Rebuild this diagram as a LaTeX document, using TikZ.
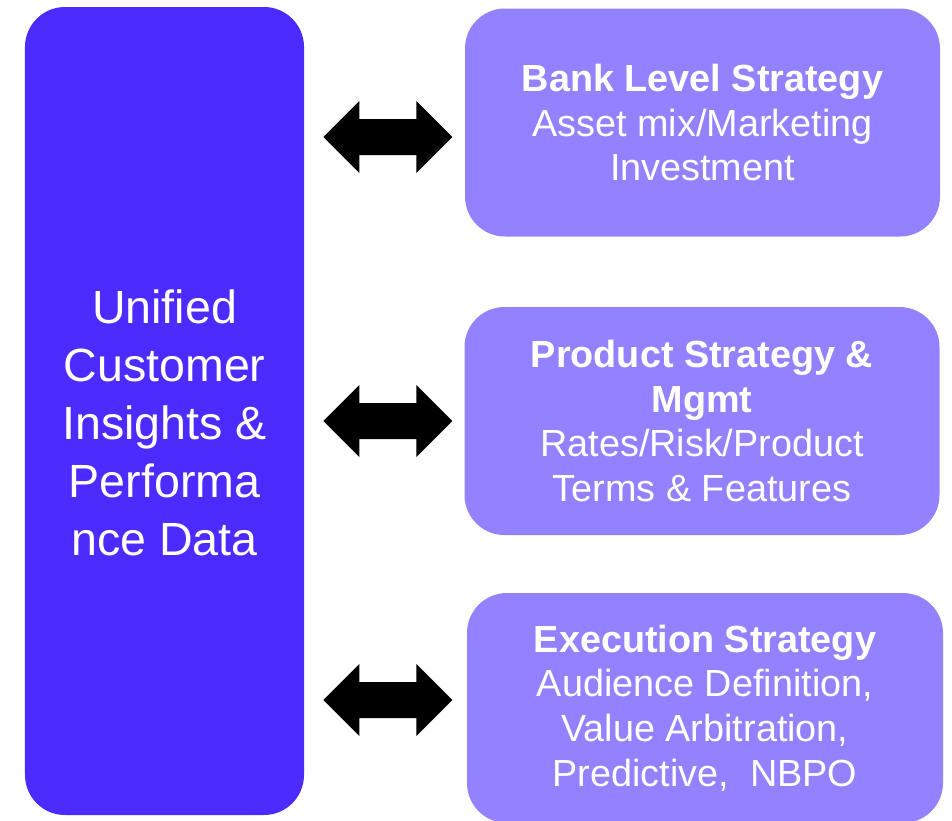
\documentclass[tikz,border=0pt]{standalone}
\usepackage{fontspec}
\setmainfont{Liberation Sans}
\definecolor{darkviolet}{HTML}{4B2BFF}
\definecolor{lightviolet}{HTML}{9382FF}
\tikzset{
    databox/.style={fill=darkviolet,rounded corners=0.8cm},
    datatext/.style={text=white,align=center,font=\fontsize{26.5}{33}\selectfont},
    stratbox/.style={fill=lightviolet,rounded corners=0.8cm,text=white,align=center,font=\fontsize{21.5}{25.5}\selectfont,minimum width=9.5cm,minimum height=4.56cm},
    dblarr/.pic={\fill (0,0) -- (0.72,0.72) -- (0.72,0.36) -- (1.86,0.36) -- (1.86,0.72) -- (2.58,0) -- (1.86,-0.72) -- (1.86,-0.36) -- (0.72,-0.36) -- (0.72,-0.72) -- cycle;}
}
\begin{document}
\begin{tikzpicture}
        \useasboundingbox (0,0) rectangle (19.04,-16.42);
        %% Data column
        \node[databox,minimum width=5.58cm,minimum height=16.16cm] (data) at (3.29,-8.22) {};
        \node[datatext] (datalabel) at ([yshift=-0.24cm]data.center) {Unified\\Customer\\Insights \&\\Performa\\nce Data};
        %% Strategy boxes
        \node[stratbox] (bank) at (14.05,-2.45) {\textbf{Bank Level Strategy}\\Asset mix/Marketing\\Investment};
        \node[stratbox] (prod) at (14.04,-8.42) {\textbf{Product Strategy \&}\\\textbf{Mgmt}\\Rates/Risk/Product\\Terms \& Features};
        \node[stratbox,minimum width=9.52cm,minimum height=4.6cm] (exec) at (14.1,-14.16) {\textbf{Execution Strategy}\\Audience Definition,\\Value Arbitration,\\Predictive,~ NBPO};
        %% Arrows
        \pic at ([xshift=0.38cm]data.east |- 0,-2.74) {dblarr};
        \pic at ([xshift=0.38cm]data.east |- prod) {dblarr};
        \pic at ([xshift=0.38cm]data.east |- 0,-14) {dblarr};
\end{tikzpicture}
\end{document}
